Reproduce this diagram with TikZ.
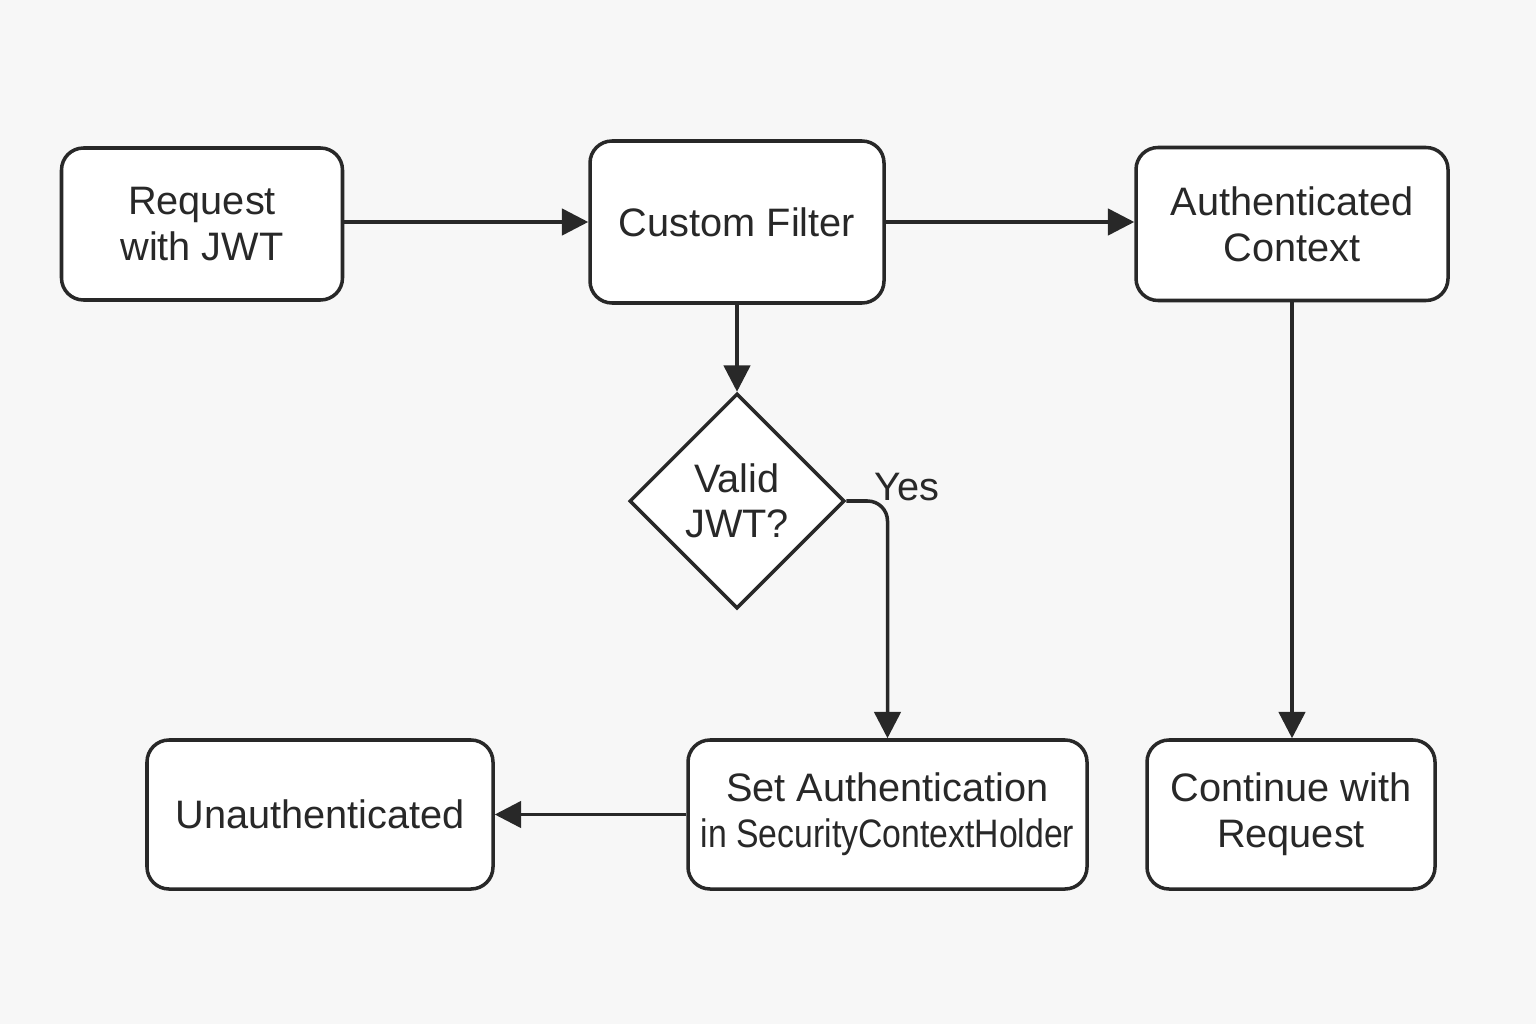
\documentclass[tikz,border=0pt]{standalone}
\usepackage{fontspec}
\setmainfont{Liberation Sans}
\usepackage{graphicx}
\usepackage{xcolor}
\usetikzlibrary{arrows.meta,shapes.geometric}

\definecolor{bgcol}{RGB}{247,247,247}
\definecolor{inkcol}{RGB}{40,40,40}

\begin{document}
\begin{tikzpicture}[scale=1.0,
    box/.style={draw=inkcol,line width=1pt,rounded corners=0.22cm,fill=white,
      align=center,inner sep=0pt,font=\fontsize{11.3}{13}\selectfont,text=inkcol},
    decision/.style={diamond,draw=inkcol,line width=1pt,fill=white,aspect=1,
      minimum width=2.15cm,minimum height=2.15cm,inner sep=0pt,align=center,
      font=\fontsize{11.3}{12.8}\selectfont,text=inkcol},
    flow/.style={draw=inkcol,line width=1pt,-{Triangle[length=7.5pt,width=7.5pt]}}
  ]

  % Canvas
  \useasboundingbox (0,0) rectangle (15.36,10.24);
  \fill[bgcol] (0,0) rectangle (15.36,10.24);

  % Top row
  \node[box,minimum width=2.81cm,minimum height=1.52cm] (req) at (2.02,8.00)
    {Request\\with JWT};
  \node[box,minimum width=2.94cm,minimum height=1.62cm] (filter) at (7.37,8.02)
    {Custom Filter};
  \node[box,minimum width=3.12cm,minimum height=1.53cm] (authctx) at (12.92,8.00)
    {Authenticated\\Context};

  % Decision
  \node[decision] (valid) at (7.37,5.23) {Valid\\JWT?};

  % Bottom row
  \node[box,minimum width=3.46cm,minimum height=1.49cm] (unauth) at (3.20,2.095)
    {Unauthenticated};
  \node[box,minimum width=3.99cm,minimum height=1.49cm] (setauth) at (8.875,2.095)
    {Set Authentication\\\scalebox{0.85}[1]{in SecurityContextHolder}};
  \node[box,minimum width=2.88cm,minimum height=1.49cm] (cont) at (12.91,2.095)
    {Continue with\\Request};

  % Connectors
  \draw[flow] (req.east |- filter) -- (filter.west);
  \draw[flow] (filter.east) -- (authctx.west |- filter);
  \draw[flow] (filter.south) -- (valid.north);
  \draw[flow,rounded corners=0.2cm] (valid.east) -| (setauth.north);
  \draw[flow] (authctx.south) -- (authctx.south |- cont.north);
  \draw[flow] (setauth.west) -- (unauth.east);

  % Branch label
  \node[text=inkcol,font=\fontsize{11.3}{12.6}\selectfont] (yes) at (9.07,5.37) {Yes};

\end{tikzpicture}
\end{document}
